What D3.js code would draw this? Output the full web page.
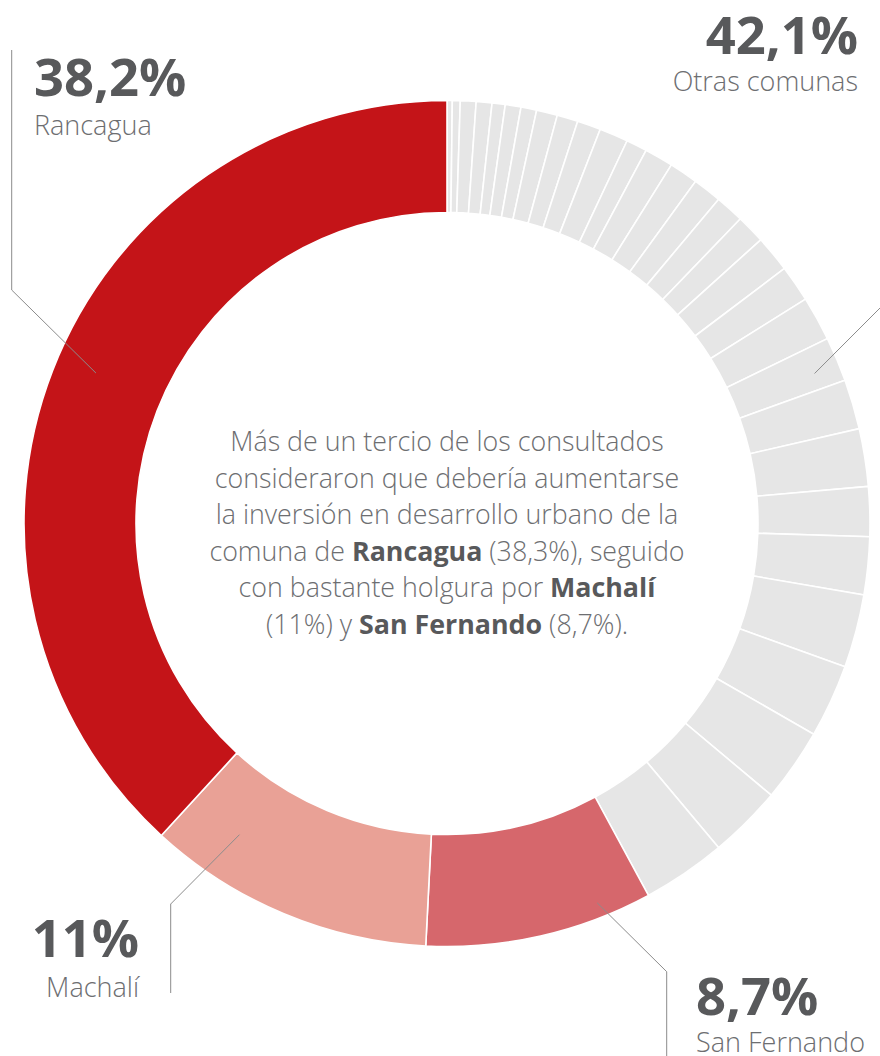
<!DOCTYPE html>
<html>
<head>
<meta charset="utf-8">
<script src="https://cdn.jsdelivr.net/npm/d3@7"></script>
<style>
  body { margin: 0; background: #fff; }
  svg { display: block; font-family: "Open Sans", sans-serif; }
  .pct { font-weight: 700; fill: #58595b; font-size: 52.5px; }
  .name { font-weight: 300; fill: #6d6e71; font-size: 27px; }
  .note { font-weight: 300; fill: #6d6e71; font-size: 26.8px; }
  .note .b { font-weight: 700; fill: #58595b; }
  .leader { fill: none; stroke: #8c8c8c; stroke-width: 1; }
</style>
</head>
<body>
<div id="chart"></div>
<script>
// main communes (clockwise after the grey block)
const mainNames = ["San Fernando", "Machalí", "Rancagua"];
const mainValues = [8.7, 11, 38.2];
const mainColors = ["#d6676c", "#e9a196", "#c41418"];

// every other commune, smallest first (starts at 12 o'clock)
const otherValues = [0.2, 0.3, 0.6, 0.6, 0.5, 0.6, 0.6, 0.8, 0.8, 0.9,
                     1.1, 0.8, 1.1, 1.1, 1.1, 1.1, 1.1, 1.4, 1.4, 1.7,
                     1.7, 1.9, 2.2, 1.9, 2.2, 2.8, 2.8, 2.8, 2.8, 3.2];
const otherName = "Otras comunas";
const otherColor = "#e6e6e6";

const noteLines = [
  [["Más de un tercio de los consultados", false]],
  [["consideraron que debería aumentarse", false]],
  [["la inversión en desarrollo urbano de la", false]],
  [["comuna de ", false], ["Rancagua", true], [" (38,3%), seguido", false]],
  [["con bastante holgura por ", false], ["Machalí", true]],
  [["(11%) y ", false], ["San Fernando", true], [" (8,7%).", false]]
];

const width = 880, height = 1056;
const cx = 447, cy = 523.5;
const rOuter = 423, rInner = 311;

const fmt = v => String(Math.round(v * 10) / 10).replace(".", ",") + "%";

const slices = otherValues.map(v => ({ name: otherName, value: v, color: otherColor }))
  .concat(mainValues.map((v, i) => ({ name: mainNames[i], value: v, color: mainColors[i] })));

const svg = d3.select("#chart").append("svg")
    .attr("width", width)
    .attr("height", height);

const g = svg.append("g")
    .attr("transform", `translate(${cx},${cy})`);

const pie = d3.pie().sort(null).value(d => d.value);
const arc = d3.arc().innerRadius(rInner).outerRadius(rOuter);

g.selectAll("path.slice")
  .data(pie(slices))
  .join("path")
    .attr("class", "slice")
    .attr("d", arc)
    .attr("fill", d => d.data.color)
    .attr("stroke", "#fff")
    .attr("stroke-width", 1.6);

// labels: anchor angle (deg) / radius inside the ring, then the elbow path
const otherTotal = d3.sum(otherValues);
const labels = [
  { value: mainValues[2], name: mainNames[2], ang: 293.2, r: 382,
    path: [[11.7, 290], [11.7, 50]], x: 34, y: 96, nameY: 135, anchor: "start" },
  { value: otherTotal, name: otherName, ang: 67.8, r: 397,
    path: [[900, 288]], x: 858, y: 54, nameY: 91, anchor: "end" },
  { value: mainValues[1], name: mainNames[1], ang: 213.7, r: 374,
    path: [[170.7, 904], [170.7, 993]], x: 139, y: 957, nameY: 997, anchor: "end" },
  { value: mainValues[0], name: mainNames[0], ang: 158.4, r: 408,
    path: [[666.7, 971.7], [666.7, 1060]], x: 696, y: 1015, nameY: 1052, anchor: "start" }
];

const line = d3.line();
labels.forEach(l => {
  const p = d3.pointRadial(l.ang * Math.PI / 180, l.r);
  const pts = [[cx + p[0], cy + p[1]]].concat(l.path);
  svg.append("path").attr("class", "leader").attr("d", line(pts));
  svg.append("text").attr("class", "pct")
    .attr("x", l.x).attr("y", l.y).attr("text-anchor", l.anchor)
    .text(fmt(l.value));
  svg.append("text").attr("class", "name")
    .attr("x", l.x).attr("y", l.nameY).attr("text-anchor", l.anchor)
    .text(l.name);
});

// centre note
const note = svg.append("text").attr("class", "note").attr("text-anchor", "middle");
noteLines.forEach((parts, i) => {
  const t = note.append("tspan").attr("x", cx).attr("y", 451 + i * 36.6);
  parts.forEach(([s, bold]) => {
    const sp = t.append("tspan").text(s);
    if (bold) sp.attr("class", "b");
  });
});
</script>
</body>
</html>
